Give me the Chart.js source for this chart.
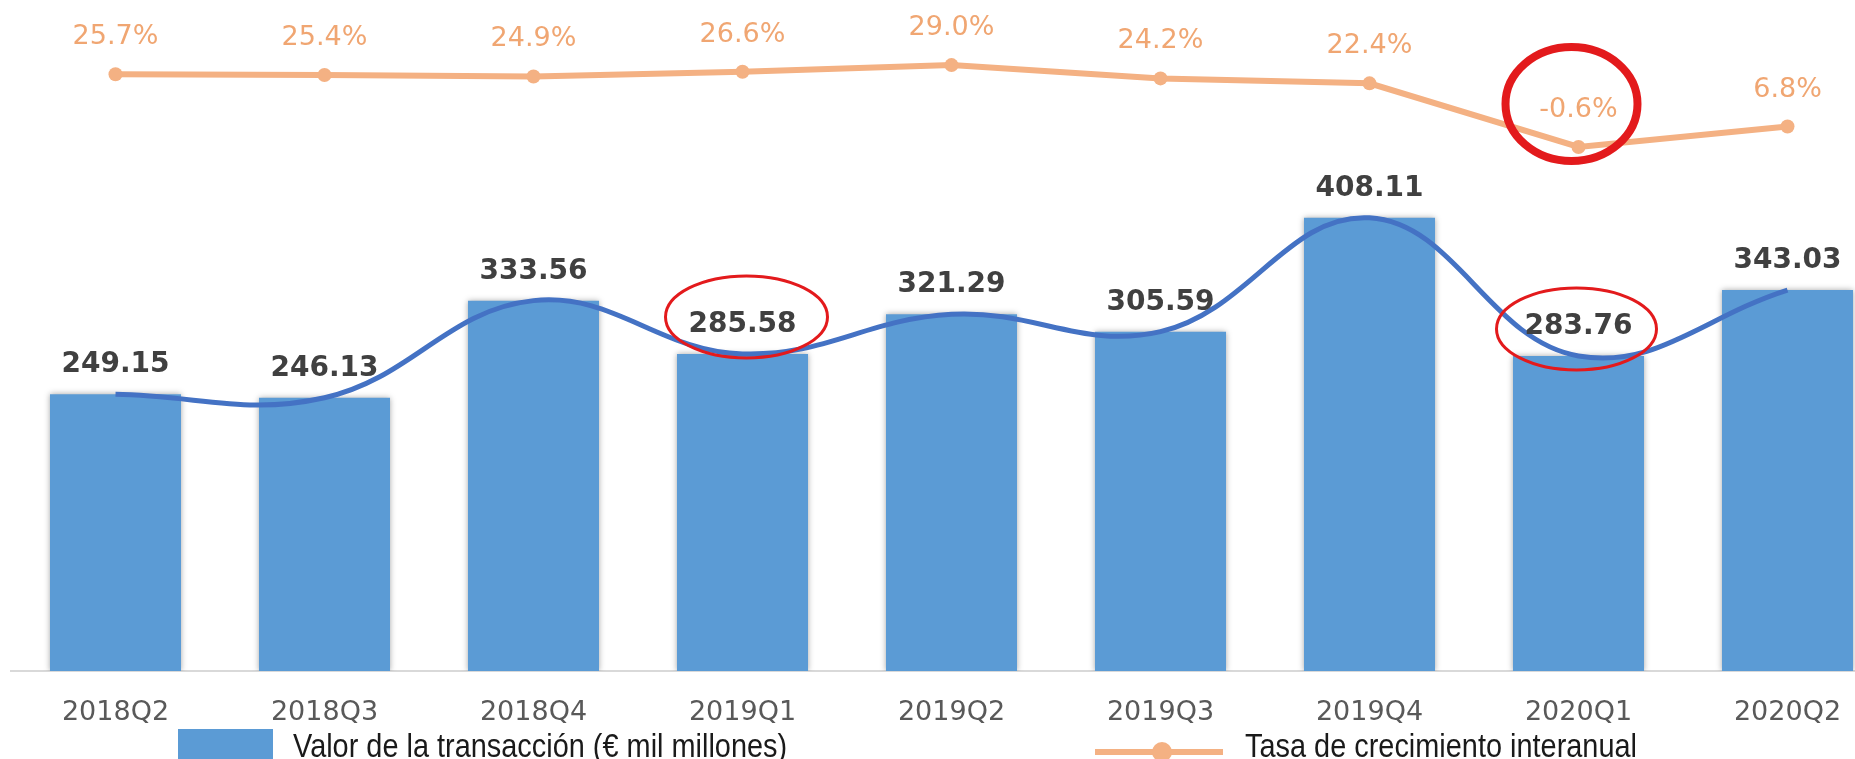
<!DOCTYPE html>
<html lang="es">
<head>
<meta charset="UTF-8">
<title>Valor de la transacción</title>
<script src="https://cdn.jsdelivr.net/npm/chart.js"></script>
<style>
    html, body { margin: 0; padding: 0; background: #fff; overflow: hidden; }
    #frame { position: relative; width: 1855px; height: 759px; overflow: hidden; background: #fff; }
    #myChart { position: absolute; left: 0; top: 0; }
    .legend-text {
        position: absolute;
        font-family: "Liberation Sans", sans-serif;
        font-size: 34px;
        line-height: 34px;
        color: #1a1a1a;
        white-space: nowrap;
        transform: scaleX(0.85);
        transform-origin: 0 0;
    }
    #swatchBar { position: absolute; left: 178px; top: 729px; width: 95px; height: 40px; background: #5B9BD5; }
    #swatchLine { position: absolute; left: 1095px; top: 749px; width: 128px; height: 6px; background: #F4B183; }
    #swatchDot { position: absolute; left: 1152px; top: 742px; width: 20px; height: 20px; border-radius: 50%; background: #F4B183; }
</style>
</head>
<body>
<div id="frame">
    <canvas id="myChart" width="1900" height="759"></canvas>
    <div id="swatchBar"></div>
    <span class="legend-text" id="legendBars" style="left:293px; top:728px;"></span>
    <div id="swatchLine"></div>
    <div id="swatchDot"></div>
    <span class="legend-text" id="legendRates" style="left:1245px; top:728px;"></span>
</div>

<script>
// data
var quarters = ['2018Q2', '2018Q3', '2018Q4', '2019Q1', '2019Q2', '2019Q3', '2019Q4', '2020Q1', '2020Q2'];
var transactionValues = [249.15, 246.13, 333.56, 285.58, 321.29, 305.59, 408.11, 283.76, 343.03];
var growthRates = [25.7, 25.4, 24.9, 26.6, 29.0, 24.2, 22.4, -0.6, 6.8];
var barLabel = 'Valor de la transacción (€ mil millones)';
var rateLabel = 'Tasa de crecimiento interanual';

document.getElementById('legendBars').textContent = barLabel;
document.getElementById('legendRates').textContent = rateLabel;

// soft shadow under the bars, like the original
var barShadow = {
    id: 'barShadow',
    beforeDatasetDraw: function (chart, args) {
        if (args.index !== 0) return;
        var ctx = chart.ctx;
        ctx.save();
        ctx.shadowColor = 'rgba(0, 0, 0, 0.35)';
        ctx.shadowBlur = 6;
    },
    afterDatasetDraw: function (chart, args) {
        if (args.index !== 0) return;
        chart.ctx.restore();
    }
};

var valueLabels = {
    id: 'valueLabels',
    afterDatasetsDraw: function (chart) {
        var ctx = chart.ctx;
        ctx.save();
        ctx.textAlign = 'center';
        ctx.textBaseline = 'alphabetic';

        ctx.font = 'bold 28px "DejaVu Sans"';
        ctx.fillStyle = '#404040';
        chart.getDatasetMeta(0).data.forEach(function (bar, i) {
            ctx.fillText(transactionValues[i].toFixed(2), bar.x, bar.y - 22);
        });

        ctx.font = '27px "DejaVu Sans"';
        ctx.fillStyle = '#F0A672';
        chart.getDatasetMeta(2).data.forEach(function (pt, i) {
            ctx.fillText(growthRates[i].toFixed(1) + '%', pt.x, pt.y - 30);
        });
        ctx.restore();
    }
};

// hand-drawn red circles around the Q1 figures
var redCircles = {
    id: 'redCircles',
    afterDraw: function (chart) {
        var ctx = chart.ctx;
        var bars = chart.getDatasetMeta(0).data;
        var pts = chart.getDatasetMeta(2).data;
        function ring(x, y, rx, ry, w) {
            ctx.beginPath();
            ctx.ellipse(x, y, rx, ry, 0, 0, Math.PI * 2);
            ctx.lineWidth = w;
            ctx.strokeStyle = '#E31A1C';
            ctx.stroke();
        }
        ctx.save();
        ring(bars[3].x + 4, bars[3].y - 37, 81, 41, 3);
        ring(bars[7].x - 2, bars[7].y - 27, 80, 41, 3);
        ring(pts[7].x - 7, pts[7].y - 43, 66, 57, 8);
        ctx.restore();
    }
};

var ctx = document.getElementById('myChart').getContext('2d');
var myChart = new Chart(ctx, {
    type: 'bar',
    data: {
        labels: quarters,
        datasets: [{
            type: 'bar',
            label: barLabel,
            data: transactionValues,
            backgroundColor: '#5B9BD5',
            borderWidth: 0,
            categoryPercentage: 1,
            barPercentage: 0.627,
            yAxisID: 'y',
            order: 3
        }, {
            type: 'line',
            label: 'tendencia',
            data: transactionValues,
            borderColor: '#4472C4',
            borderWidth: 5,
            pointRadius: 0,
            tension: 0.4,
            fill: false,
            yAxisID: 'y',
            order: 2
        }, {
            type: 'line',
            label: rateLabel,
            data: growthRates,
            borderColor: '#F4B183',
            backgroundColor: '#F4B183',
            borderWidth: 6,
            pointRadius: 7,
            pointBorderWidth: 0,
            pointBackgroundColor: '#F4B183',
            tension: 0,
            fill: false,
            yAxisID: 'y2',
            order: 1
        }]
    },
    options: {
        responsive: false,
        animation: false,
        layout: { padding: { left: 11, right: 8, top: 0, bottom: 5 } },
        plugins: {
            legend: { display: false },
            tooltip: { enabled: false }
        },
        scales: {
            x: {
                grid: { display: false, drawTicks: false },
                border: { display: true, color: '#D9D9D9', width: 2 },
                ticks: {
                    color: '#595959',
                    font: { family: 'DejaVu Sans', size: 27, lineHeight: 1 },
                    padding: 28,
                    autoSkip: false,
                    maxRotation: 0
                }
            },
            y: { display: false, min: 0, max: 598 },
            y2: { display: false, min: -190, max: 50 }
        }
    },
    plugins: [barShadow, valueLabels, redCircles]
});
</script>
</body>
</html>
